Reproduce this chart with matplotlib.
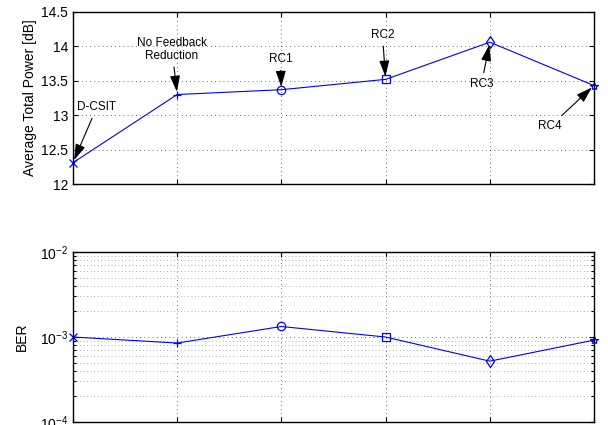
import matplotlib
matplotlib.use("Agg")
import matplotlib.pyplot as plt
from matplotlib.ticker import LogLocator, NullFormatter

plt.rcParams['font.family'] = ['Liberation Sans', 'DejaVu Sans']
plt.rcParams['mathtext.fontset'] = 'custom'
plt.rcParams['mathtext.rm'] = 'Liberation Sans'

# data
schemes = ['D-CSIT', 'No Feedback\nReduction', 'RC1', 'RC2', 'RC3', 'RC4']
power_db = [12.31, 13.30, 13.37, 13.52, 14.06, 13.43]
ber = [1.0e-3, 0.85e-3, 1.33e-3, 1.0e-3, 0.52e-3, 0.92e-3]
markers = ['x', '+', 'o', 's', 'd', '*']
# label position (x index, y value) for each annotation
label_pos = [(0.23, 13.12), (0.95, 13.96), (1.99, 13.82), (2.97, 14.17), (3.92, 13.45), (4.58, 12.84)]

x = list(range(len(schemes)))

fig = plt.figure(figsize=(6.08, 4.25), dpi=100)
ax1 = fig.add_axes([0.120, 0.567, 0.857, 0.405])
ax2 = fig.add_axes([0.120, 0.007, 0.857, 0.400])

def style(ax):
    ax.tick_params(which='both', direction='in', top=True, right=True, labelsize=10, width=0.8)
    ax.tick_params(axis='x', labelbottom=False)
    for s in ax.spines.values():
        s.set_linewidth(1.0)
    ax.set_xlim(0, 5)
    ax.set_xticks(x)

# top: average power
ax1.plot(x, power_db, '-', color='b', lw=0.8)
for xi, yi, m in zip(x, power_db, markers):
    ax1.plot(xi, yi, marker=m, color='b', mfc='none', ms=6, mew=0.9, clip_on=False)
ax1.set_ylim(12, 14.5)
ax1.set_yticks([12, 12.5, 13, 13.5, 14, 14.5])
ax1.set_yticklabels(['12', '12.5', '13', '13.5', '14', '14.5'])
ax1.grid(True, linestyle=(0, (1, 4)), color='0.25', lw=0.6)
ax1.set_ylabel('Average Total Power [dB]', fontsize=10, labelpad=3)
style(ax1)

for xi, yi, lab, (tx, ty) in zip(x, power_db, schemes, label_pos):
    ax1.annotate(lab, xy=(xi, yi), xytext=(tx, ty), fontsize=8.5, ha='center', va='center',
                 annotation_clip=False, linespacing=1.1,
                 arrowprops=dict(arrowstyle='-|>,head_length=0.7,head_width=0.22',
                                 color='k', lw=0.8, mutation_scale=14,
                                 shrinkA=2, shrinkB=2))

# bottom: BER
ax2.semilogy(x, ber, '-', color='b', lw=0.8)
for xi, yi, m in zip(x, ber, markers):
    ax2.semilogy(xi, yi, marker=m, color='b', mfc='none', ms=6, mew=0.9, clip_on=False)
ax2.set_ylim(1e-4, 1e-2)
ax2.yaxis.set_major_locator(LogLocator(base=10, numticks=5))
ax2.yaxis.set_minor_locator(LogLocator(base=10, subs=range(2, 10), numticks=20))
ax2.yaxis.set_minor_formatter(NullFormatter())
ax2.grid(True, which='major', linestyle=(0, (1, 4)), color='0.25', lw=0.6)
ax2.grid(True, which='minor', axis='y', linestyle=(0, (1, 4)), color='0.4', lw=0.5)
ax2.set_ylabel('BER', fontsize=10, labelpad=8)
style(ax2)

fig.savefig('out.png', dpi=100)
